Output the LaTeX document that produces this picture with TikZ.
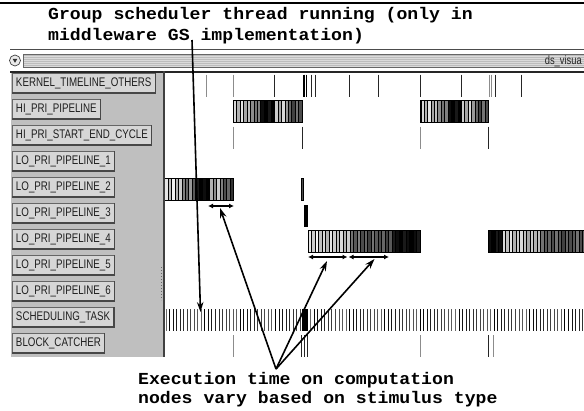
\documentclass[tikz,border=0pt]{standalone}
\usepackage{fontspec}
\usetikzlibrary{arrows.meta}
\newfontfamily\annfont[FakeStretch=1.08]{Liberation Mono}
\newfontfamily\btnfont[FakeStretch=0.78]{Liberation Sans}
\newcommand\stripebar[4]{%
  \foreach \g [count=\i from 0] in {#4} {
    \fill[black!\g] ({#1+\i*#3},#2) rectangle ++(#3,22);
    \draw[black, line width=0.4pt] ({#1+\i*#3},#2) -- ++(0,22);
  }%
}
\tikzset{
  anntext/.style={font=\annfont\bfseries\fontsize{16.8}{20}\selectfont, inner sep=0pt, anchor=base west},
  btn/.style={draw=black!60, fill=black!16, line width=0.8pt, minimum height=19pt, inner xsep=3.6pt, inner ysep=0pt, anchor=west, font=\btnfont\fontsize{12.5}{14}\selectfont, text=black!88},
  anno/.style={line width=1.6pt, -{Stealth[open, length=10pt, width=6.5pt]}},
  dbl/.style={line width=1.3pt, {Latex[length=5pt, width=5pt]}-{Latex[length=5pt, width=5pt]}},
  tklight/.style={black!45, line width=0.8pt},
  tkdark/.style={black!85, line width=1pt},
  barout/.style={draw=black, line width=0.8pt}
}
\begin{document}
\begin{tikzpicture}[x=1pt, y=-1pt]
\useasboundingbox (0,0) rectangle (584,410);
\fill[white] (0,0) rectangle (584,410);
% top rule
\draw[black, line width=2pt] (0,3) -- (584,3);
% titles
\node[anntext] (title1) at (48,19.5) {Group scheduler thread running (only in};
\node[anntext] (title2) at (48,40) {middleware GS implementation)};
% toolbar
\draw[black!70, line width=0.8pt] (10,49.5) -- (584,49.5);
\fill[black!14] (23,54) rectangle (590,67);
\foreach \yy in {55.5,57.5,...,66} \draw[black!26, line width=0.5pt] (23,\yy) -- (584,\yy);
\draw[black!60, line width=0.8pt] (23,54) rectangle (590,67);
\node[circle, draw=black!75, fill=black!8, minimum size=11pt, inner sep=0pt, line width=0.7pt] (menu) at (15,60.5) {};
\fill[black!80] (12.6,58.8) -- (17.4,58.8) -- (15,62.8) -- cycle;
\node[anchor=base east, inner sep=0pt, font=\btnfont\fontsize{12}{13}\selectfont, text=black!85] (dsvis) at (582,64.5) {ds\_visua};
% panel
\fill[black!25] (11,72) rectangle (163,357);
\draw[black!85, line width=2pt] (10,71.5) -- (584,71.5);
\draw[black!75, line width=1.6pt] (164,71) -- (164,357);
\draw[black!60, line width=0.8pt, dash pattern=on 1pt off 2pt] (161,267) -- (161,300);
% buttons
\foreach \lbl [count=\k from 0] in {KERNEL\_TIMELINE\_OTHERS, HI\_PRI\_PIPELINE, HI\_PRI\_START\_END\_CYCLE, LO\_PRI\_PIPELINE\_1, LO\_PRI\_PIPELINE\_2, LO\_PRI\_PIPELINE\_3, LO\_PRI\_PIPELINE\_4, LO\_PRI\_PIPELINE\_5, LO\_PRI\_PIPELINE\_6, SCHEDULING\_TASK, BLOCK\_CATCHER} {
  \node[btn] (b\k) at (12,{83+26*\k}) {\lbl};
  \draw[black!72, line width=1.2pt] (b\k.south west) -- (b\k.south east) -- (b\k.north east);
}
% data area content
\begin{scope}
\clip (165,73) rectangle (584,358);
% row 0 ticks
\foreach \xx in {206.7,233.3,489.3,491.7} \draw[tklight] (\xx,74.5) -- (\xx,96.5);
\foreach \xx in {274.3,311.7,315,349.3,378.3,420.7,461.7,495,521} \draw[tkdark] (\xx,74.5) -- (\xx,96.5);
\foreach \xx in {304,306.7} \draw[black, line width=1.5pt] (\xx,74.5) -- (\xx,96.5);
% row 1 bars
\stripebar{233}{100.5}{3.45}{15,30,10,35,25,45,55,50,95,100,90,100,20,35,15,40,60,75,55,70}
\draw[barout] (233,100.5) rectangle (302,122.5);
\stripebar{420.7}{100.5}{3.38}{15,30,10,35,25,45,55,50,95,100,90,100,20,35,15,40,60,75,55,70}
\draw[barout] (420.7,100.5) rectangle (488.3,122.5);
% row 2 ticks
\foreach \xx in {233,420.5} \draw[tklight] (\xx,126.6) -- (\xx,148.6);
\foreach \xx in {302,488} \draw[tkdark] (\xx,126.6) -- (\xx,148.6);
% row 4 bar
\stripebar{164.5}{178.7}{3.45}{10,25,5,30,20,50,60,40,65,90,100,95,100,30,45,20,50,70,60,80}
\draw[barout] (164.5,178.7) rectangle (233.5,200.7);
\fill[black!70] (301,178.7) rectangle (303.5,200.7);
\draw[black, line width=0.5pt] (301,178.7) rectangle (303.5,200.7);
% row 5 bar
\fill[black] (304,204.8) rectangle (308,226.8);
% row 6 bars
\stripebar{308}{230.8}{3.5}{10,20,5,25,15,30,10,20,25,15,30,20,55,65,50,70,60,75,55,65,70,60,75,65,90,95,100,90,95,100,95,90}
\draw[barout] (308,230.8) rectangle (420,252.8);
\stripebar{488}{230.8}{3.5}{95,100,90,95,15,25,10,30,20,15,25,35,20,30,25,55,65,60,70,55,65,75,60,70,65,55,70,60}
\draw[barout] (488,230.8) rectangle (600,252.8);
% row 9 scheduling task lines
\foreach \i in {0,...,118} {
  \pgfmathsetmacro\gg{60+mod(\i*37,41)}
  \draw[black!\gg, line width=0.9pt] ({166+\i*3.53},309) -- ++(0,22);
}
\fill[black] (302,309) rectangle (308,331);
% row 10 ticks
\foreach \xx in {233,420,493} \draw[tklight] (\xx,335) -- (\xx,357);
\foreach \xx in {301,304,307,488} \draw[tkdark] (\xx,335) -- (\xx,357);
\end{scope}
% small double arrows
\coordinate (d1a) at (208,206); \coordinate (d1b) at (234,206);
\coordinate (d2a) at (308,257); \coordinate (d2b) at (347.5,257);
\coordinate (d3a) at (348.5,257); \coordinate (d3b) at (389,257);
\draw[dbl] (d1a) -- (d1b);
\draw[dbl] (d2a) -- (d2b);
\draw[dbl] (d3a) -- (d3b);
% annotation arrows
\coordinate (gstop) at (192,40);
\coordinate (gstip) at (200.5,312);
\draw[anno] (gstop) -- (gstip);
\coordinate (apex) at (276,369);
\coordinate (tipA) at (220,208);
\coordinate (tipB) at (327,261);
\coordinate (tipC) at (374.5,259);
\draw[anno] (apex) -- (tipA);
\draw[anno] (apex) -- (tipB);
\draw[anno] (apex) -- (tipC);
% bottom text
\node[anntext] (bottom1) at (138,384) {Execution time on computation};
\node[anntext] (bottom2) at (138,403.5) {nodes vary based on stimulus type};
\end{tikzpicture}
\end{document}
